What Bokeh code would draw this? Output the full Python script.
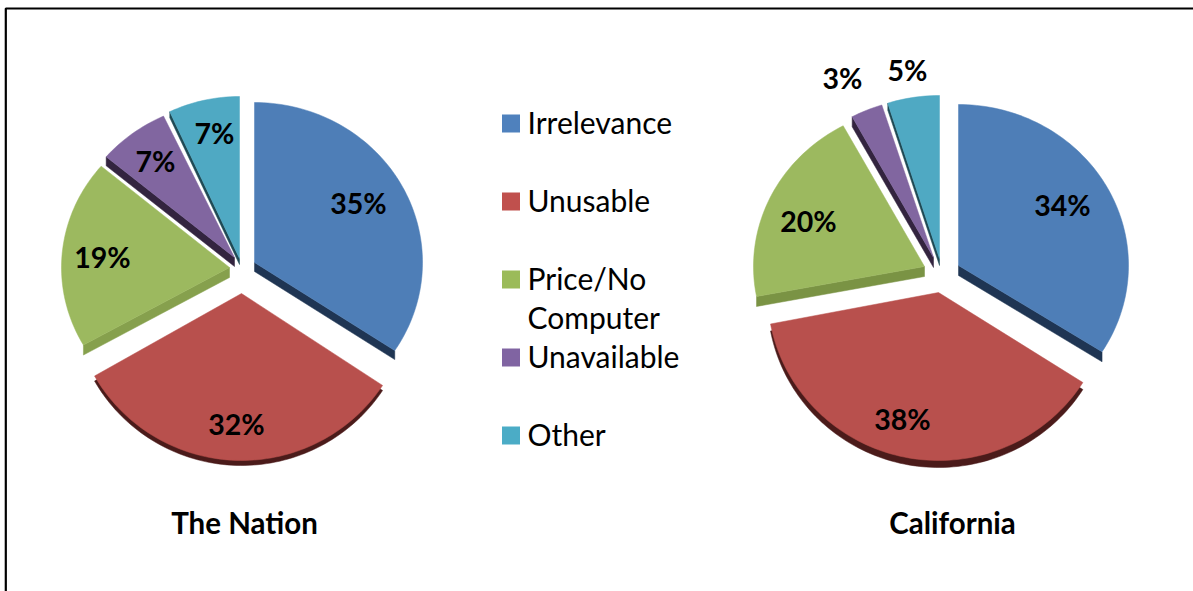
import math
from bokeh.plotting import figure
from bokeh.models import Range1d
from bokeh.core.properties import value
from bokeh.embed import file_html
from bokeh.resources import INLINE

categories = ["Irrelevance", "Unusable", "Price/No\nComputer", "Unavailable", "Other"]
nation_values = [35, 32, 19, 7, 7]
california_values = [34, 38, 20, 3, 5]
nation_title = "The Nation"
california_title = "California"

top_colors = ["#4E7EB7", "#B8504D", "#9CB95F", "#8166A0", "#4FA9C3"]
side_colors = ["#1F3553", "#4B1B1A", "#86A04D", "#33243F", "#1F4A55"]
legend_colors = ["#4F81BD", "#C0504D", "#9BBB59", "#8064A2", "#4BACC6"]
california_side_colors = ["#1F3553", "#4B1B1A", "#7A9344", "#33243F", "#1F4A55"]
side_edge = ["end", "rim", "start", "start", "start"]

FONT = "Lato"

# layout of each exploded slice: apex x, apex y, radius x, radius y, depth, and
# small corrections of the slice's start and end for the chart's 3-D projection
nation_layout = [
    (254, 262, 168, 160, 9, 0.0, -2.6),
    (241, 293, 169, 167, 5, -2.6, -0.8),
    (229, 267, 168, 157, 10, -0.8, 0.6),
    (234, 257, 168, 156, 9, 0.6, 0.2),
    (239, 258, 165, 162, 6, 0.2, 0.0),
]
california_layout = [
    (958, 265, 170, 161, 10, 0.0, 0.0),
    (938, 292, 171, 168, 7, 0.0, 0.0),
    (924, 266, 171, 160, 10, 0.0, 0.4),
    (933, 257, 171, 160, 10, 0.4, 0.4),
    (939, 258, 171, 163, 7, 0.4, 0.0),
]
# label centres
nation_label_pos = [(358, 202), (236, 423), (102, 256), (155, 160), (214, 132)]
california_label_pos = [(1062, 204), (902, 418), (808, 220), (842, 77), (907, 69)]


def sector(total, before, val, layout):
    ax, ay, rx, ry, depth, ds, de = layout
    t0 = before / total * 360 + ds
    t1 = (before + val) / total * 360 + de
    n = max(8, int((t1 - t0) / 1.5))
    xs, ys = [ax], [ay]
    for i in range(n + 1):
        t = math.radians(t0 + (t1 - t0) * i / n)
        xs.append(ax + rx * math.sin(t))
        ys.append(ay - ry * math.cos(t))
    return xs, ys, depth


def side_shape(xs, ys, depth, edge):
    if edge == "rim":
        return xs, [y + depth for y in ys]
    i = -1 if edge == "end" else 1
    return ([xs[0], xs[i], xs[i], xs[0]],
            [ys[0], ys[i], ys[i] + depth, ys[0] + depth])


p = figure(width=1193, height=591, output_backend="svg", toolbar_location=None,
           x_range=Range1d(0, 1193), y_range=Range1d(591, 0),
           min_border=0, outline_line_color=None,
           background_fill_color="white", border_fill_color="white")
p.axis.visible = False
p.grid.visible = False

# frame: only the left and top rules fall inside the picture
p.line([5.3, 5.3, 1193], [591, 8, 8], line_color="black", line_width=2.2)

for vals, layouts, positions, sc in (
        (nation_values, nation_layout, nation_label_pos, side_colors),
        (california_values, california_layout, california_label_pos, california_side_colors)):
    total = sum(vals)
    before = 0
    sides_x, sides_y, tops_x, tops_y = [], [], [], []
    for val, lay, edge in zip(vals, layouts, side_edge):
        xs, ys, depth = sector(total, before, val, lay)
        before += val
        tops_x.append(xs)
        tops_y.append(ys)
        sx, sy = side_shape(xs, ys, depth, edge)
        sides_x.append(sx)
        sides_y.append(sy)
    p.patches(sides_x, sides_y, fill_color=sc, line_color=sc, line_width=0.5)
    p.patches(tops_x, tops_y, fill_color=top_colors, line_color=top_colors, line_width=0.5)
    p.text([q[0] for q in positions], [q[1] for q in positions],
           text=[f"{v}%" for v in vals], text_font=value(FONT), text_font_style="bold",
           text_font_size="28.5px", text_color="black", text_align="center", text_baseline="middle")

# legend
legend_y = [123, 201, 279, 357, 435]
p.rect([510.5] * 5, legend_y, width=18, height=18, fill_color=legend_colors, line_color=None)
for cat, y in zip(categories, legend_y):
    for k, line in enumerate(cat.split("\n")):
        p.text([527], [y + 39 * k - 2], text=[line], text_font=value(FONT), text_font_size="30px",
               text_color="black", text_align="left", text_baseline="middle")

# titles
p.text([244, 952], [522, 522], text=[nation_title, california_title], text_font=value(FONT),
       text_font_style="bold", text_font_size="29.5px", text_color="black",
       text_align="center", text_baseline="middle")

open("out.html", "w").write(file_html(p, INLINE))
